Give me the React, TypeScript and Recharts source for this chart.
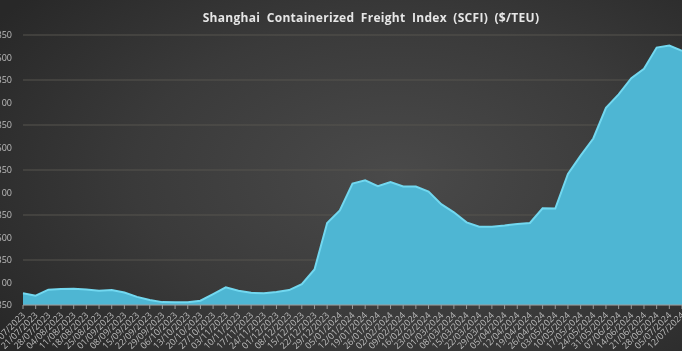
import { AreaChart, Area, XAxis, YAxis, CartesianGrid } from 'recharts'

const weeks = [
  '14/07/2023', '21/07/2023', '28/07/2023', '04/08/2023', '11/08/2023', '18/08/2023', '25/08/2023',
  '01/09/2023', '08/09/2023', '15/09/2023', '22/09/2023', '29/09/2023', '06/10/2023', '13/10/2023',
  '20/10/2023', '27/10/2023', '03/11/2023', '10/11/2023', '17/11/2023', '24/11/2023', '01/12/2023',
  '08/12/2023', '15/12/2023', '22/12/2023', '29/12/2023', '05/01/2024', '12/01/2024', '19/01/2024',
  '26/01/2024', '02/02/2024', '09/02/2024', '16/02/2024', '23/02/2024', '01/03/2024', '08/03/2024',
  '15/03/2024', '22/03/2024', '29/03/2024', '05/04/2024', '12/04/2024', '19/04/2024', '26/04/2024',
  '03/05/2024', '10/05/2024', '17/05/2024', '24/05/2024', '31/05/2024', '07/06/2024', '14/06/2024',
  '21/06/2024', '28/06/2024', '05/07/2024', '12/07/2024',
]

const scfi = [
  980, 954, 1020, 1028, 1030, 1022, 1008, 1016, 988, 940, 905, 882, 880, 881, 898, 972, 1046, 1008,
  986, 980, 994, 1016, 1082, 1245, 1760, 1900, 2200, 2235, 2170, 2215, 2166, 2166, 2110, 1970, 1880,
  1768, 1720, 1720, 1733, 1750, 1762, 1925, 1922, 2306, 2510, 2700, 3040, 3190, 3370, 3475, 3710,
  3733, 3675,
]

const yTicks = [850, 1100, 1350, 1600, 1850, 2100, 2350, 2600, 2850, 3100, 3350, 3600, 3850]

const data = weeks.map((week, i) => ({ week, value: scfi[i] }))

const DateTick = (props: any) => {
  const { x, y, payload } = props
  return (
    <g transform={`translate(${x},${y})`}>
      <text
        textAnchor="end"
        transform="rotate(-45)"
        dy={4}
        fontSize={9}
        fontFamily="'Open Sans', sans-serif"
        fill="#bdbdbd"
      >
        {payload.value}
      </text>
    </g>
  )
}

export default function App() {
  return (
    <div
      style={{
        position: 'fixed',
        left: 0,
        top: 0,
        width: 682,
        height: 351,
        overflow: 'hidden',
        background: 'radial-gradient(ellipse 70% 80% at 58% 50%, #4a4a4a 0%, #3a3a3a 55%, #282828 100%)',
      }}
    >
      <div
        style={{
          position: 'absolute',
          top: 9,
          left: 0,
          width: 742,
          textAlign: 'center',
          color: '#e6e6e6',
          fontFamily: "'Open Sans', sans-serif",
          fontWeight: 700,
          fontSize: 12,
          wordSpacing: 3,
          letterSpacing: 0.3,
        }}
      >
        Shanghai Containerized Freight Index (SCFI) ($/TEU)
      </div>
      <div style={{ position: 'absolute', left: -30, top: 0 }}>
        <AreaChart
          width={720}
          height={380}
          data={data}
          margin={{ top: 35, right: 8, bottom: 0, left: 0 }}
        >
          <CartesianGrid vertical={false} stroke="#57544f" strokeWidth={1} />
          <XAxis
            dataKey="week"
            interval={0}
            height={75}
            tick={<DateTick />}
            tickSize={4}
            tickMargin={4}
            axisLine={{ stroke: '#9a9a9a' }}
            tickLine={{ stroke: '#9a9a9a' }}
          />
          <YAxis
            domain={[850, 3850]}
            ticks={yTicks}
            width={53}
            axisLine={false}
            tickLine={false}
            tickMargin={5}
            tickFormatter={(v: number) => v.toLocaleString('en-US')}
            tick={{ fontSize: 9, fill: '#bdbdbd', fontFamily: "'Open Sans', sans-serif" }}
          />
          <Area
            type="linear"
            dataKey="value"
            stroke="#72d8f0"
            strokeWidth={2}
            fill="#4eb6d3"
            fillOpacity={1}
            isAnimationActive={false}
          />
        </AreaChart>
      </div>
    </div>
  )
}
